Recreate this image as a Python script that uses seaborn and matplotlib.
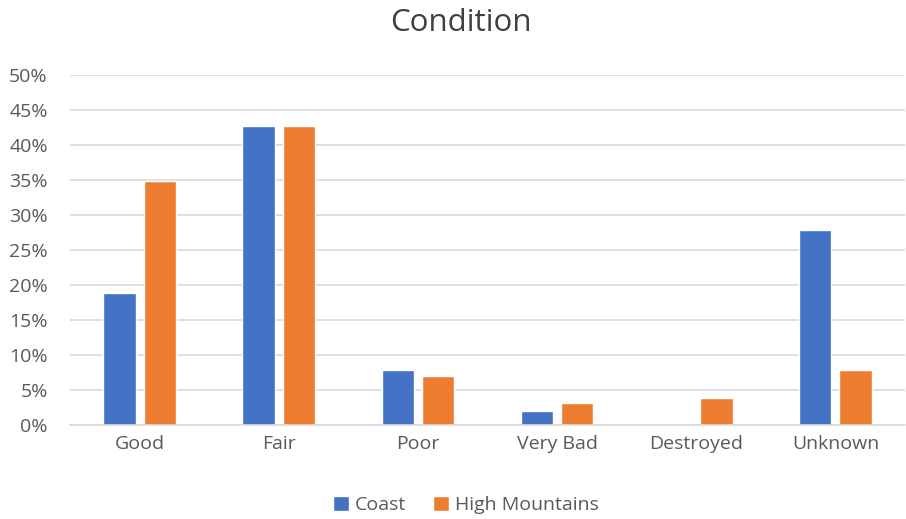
import pandas as pd
import matplotlib.pyplot as plt
import seaborn as sns
from matplotlib.ticker import PercentFormatter

# --- DATA ---
categories = ["Good", "Fair", "Poor", "Very Bad", "Destroyed", "Unknown"]
coast = [18.8, 42.7, 7.9, 2.0, 0.0, 27.9]
high_mountains = [34.8, 42.7, 7.0, 3.1, 3.9, 7.9]
series_names = ["Coast", "High Mountains"]
colors = ["#4472C4", "#ED7D31"]

df = pd.DataFrame({
    "Condition": categories * 2,
    "Share": coast + high_mountains,
    "Region": [series_names[0]] * len(categories) + [series_names[1]] * len(categories),
})

sns.set_style("white")
plt.rcParams["font.family"] = ["Open Sans", "DejaVu Sans"]

fig = plt.figure(figsize=(9.06, 5.19), dpi=100)
ax = fig.add_axes([70 / 906, 1 - 425 / 519, 835 / 906, 350 / 519])

sns.barplot(data=df, x="Condition", y="Share", hue="Region", palette=colors,
            width=0.58, gap=0.2, ax=ax, saturation=1, legend=True)

ax.set_ylim(0, 50)
ax.set_xlim(-0.5, len(categories) - 0.5)
ax.set_yticks(range(0, 51, 5))
ax.yaxis.set_major_formatter(PercentFormatter(decimals=0))
ax.yaxis.grid(True, color="#D9D9D9", linewidth=1.2)
ax.set_axisbelow(True)
for s in ["top", "right", "left"]:
    ax.spines[s].set_visible(False)
ax.spines["bottom"].set_color("#D9D9D9")
ax.spines["bottom"].set_linewidth(1.2)
ax.tick_params(axis="x", length=0, labelsize=14, colors="#595959", pad=7)
ax.tick_params(axis="y", length=0, labelsize=14, colors="#595959", pad=16)
ax.set_xlabel("")
ax.set_ylabel("")

fig.suptitle("Condition", x=461 / 906, y=1 - 8 / 519, fontsize=22.5, color="#404040", va="top")

handles, labels = ax.get_legend_handles_labels()
ax.legend_.remove()
fig.legend(handles, labels, loc="center", bbox_to_anchor=(466 / 906, 1 - 505 / 519),
           ncol=2, frameon=False, fontsize=14, handlelength=0.8, handleheight=0.8,
           handletextpad=0.3, columnspacing=1.4, labelcolor="#595959")

fig.savefig("out.png", dpi=100)
